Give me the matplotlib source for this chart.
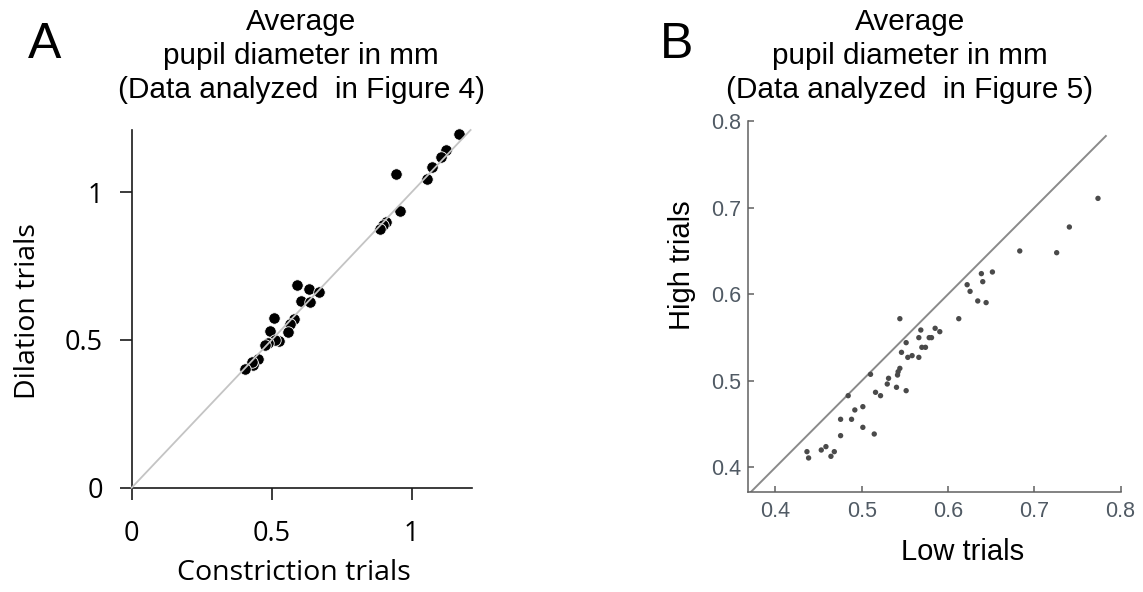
import matplotlib
matplotlib.use("Agg")
import matplotlib.pyplot as plt

# ---- Panel A data (Constriction vs Dilation trials) ----
a_constriction = [1.170, 1.122, 1.105, 1.072, 1.053, 0.944, 0.958, 0.907, 0.899, 0.887,
                  0.589, 0.633, 0.667, 0.605, 0.638, 0.509, 0.580, 0.565, 0.559, 0.494,
                  0.525, 0.512, 0.488, 0.476, 0.452, 0.434, 0.431, 0.405]
a_dilation = [1.197, 1.144, 1.118, 1.084, 1.044, 1.060, 0.935, 0.899, 0.887, 0.876,
              0.687, 0.671, 0.662, 0.631, 0.628, 0.574, 0.569, 0.555, 0.525, 0.529,
              0.496, 0.499, 0.491, 0.482, 0.435, 0.415, 0.424, 0.403]
a_ticks = [0, 0.5, 1]
a_ticklabels = ["0", "0.5", "1"]

# ---- Panel B data (Low vs High trials) ----
b_low = [0.7739, 0.7407, 0.7260, 0.6832, 0.6515, 0.6387, 0.6403, 0.6222, 0.6256, 0.6345,
         0.6442, 0.6125, 0.5442, 0.5851, 0.5905, 0.5685, 0.5662, 0.5782, 0.5809, 0.5515,
         0.5697, 0.5739, 0.5461, 0.5534, 0.5584, 0.5662, 0.5442, 0.5422, 0.5415, 0.5102,
         0.5311, 0.5296, 0.5403, 0.5515, 0.5160, 0.5218, 0.4843, 0.5013, 0.4920, 0.4755,
         0.4882, 0.5013, 0.4755, 0.5145, 0.4585, 0.4531, 0.4365, 0.4682, 0.4643, 0.4384]
b_high = [0.7109, 0.6778, 0.6481, 0.6501, 0.6258, 0.6239, 0.6146, 0.6111, 0.6034, 0.5923,
          0.5904, 0.5718, 0.5718, 0.5607, 0.5568, 0.5587, 0.5499, 0.5499, 0.5499, 0.5441,
          0.5387, 0.5387, 0.5329, 0.5271, 0.5291, 0.5271, 0.5144, 0.5105, 0.5067, 0.5075,
          0.5029, 0.4963, 0.4925, 0.4886, 0.4867, 0.4828, 0.4828, 0.4701, 0.4663, 0.4555,
          0.4555, 0.4462, 0.4366, 0.4385, 0.4239, 0.4200, 0.4181, 0.4181, 0.4127, 0.4108]
b_ticks = [0.4, 0.5, 0.6, 0.7, 0.8]
b_ticklabels = ["0.4", "0.5", "0.6", "0.7", "0.8"]

title_a = "Average\npupil diameter in mm\n(Data analyzed  in Figure 4)"
title_b = "Average\npupil diameter in mm\n(Data analyzed  in Figure 5)"

W, H = 1143, 592
fig = plt.figure(figsize=(W / 100, H / 100), dpi=100)

def fx(px):
    return px / W

def fy(py):
    return 1 - py / H

# ---------------- Panel A ----------------
axA = fig.add_axes([fx(131.7), fy(487.7), fx(471.7) - fx(131.7), fy(130) - fy(487.7)])
axA.scatter(a_constriction, a_dilation, s=68, color="black", edgecolors="white",
            linewidths=0.6, zorder=2, clip_on=False)
axA.plot([0, 1.21], [0, 1.21], color="#c4c4c4", lw=1.3, zorder=3, clip_on=False)
axA.set_xlim(0, 1.214)
axA.set_ylim(0, 1.21)
for s in ["top", "right"]:
    axA.spines[s].set_visible(False)
for s in ["left", "bottom"]:
    axA.spines[s].set_linewidth(1.2)
    axA.spines[s].set_color("#1a1a1a")
axA.set_xticks(a_ticks)
axA.set_xticklabels(a_ticklabels)
axA.set_yticks(a_ticks)
axA.set_yticklabels(a_ticklabels)
axA.tick_params(direction="out", length=8.5, width=1.2, color="#1a1a1a",
                labelsize=19.5)
axA.tick_params(axis="x", pad=15)
axA.tick_params(axis="y", pad=12)
for lab in axA.get_xticklabels() + axA.get_yticklabels():
    lab.set_family("Open Sans")
axA.set_xlabel("Constriction trials", family="Open Sans", fontsize=20.5)
axA.set_ylabel("Dilation trials", family="Open Sans", fontsize=20.5)
axA.xaxis.set_label_coords(0.477, -0.2)
axA.yaxis.set_label_coords(-0.264, 0.494)

# ---------------- Panel B ----------------
b_x0, b_x1 = 0.3685, 0.80
b_y0, b_y1 = 0.3718, 0.80
axB = fig.add_axes([fx(748.3), fy(491.7), fx(1120.5) - fx(748.3), fy(121.3) - fy(491.7)])
axB.scatter(b_low, b_high, s=15, color="#4a4a4a", edgecolors="none", zorder=2)
axB.plot([b_x0, 0.783], [b_x0, 0.783], color="#8a8a8a", lw=1.4, zorder=1)
axB.set_xlim(b_x0, b_x1)
axB.set_ylim(b_y0, b_y1)
for s in ["top", "right"]:
    axB.spines[s].set_visible(False)
for s in ["left", "bottom"]:
    axB.spines[s].set_linewidth(1.1)
    axB.spines[s].set_color("#606060")
axB.set_xticks(b_ticks)
axB.set_xticklabels(b_ticklabels)
axB.set_yticks(b_ticks)
axB.set_yticklabels(b_ticklabels)
axB.tick_params(direction="in", length=4.5, width=1.1, color="#606060",
                labelsize=15.5, labelcolor="#505a64", pad=5)
axB.tick_params(axis="x", pad=7)
for lab in axB.get_xticklabels() + axB.get_yticklabels():
    lab.set_family("Liberation Sans")
axB.set_xlabel("Low trials", family="Liberation Sans", fontsize=21)
axB.set_ylabel("High trials", family="Liberation Sans", fontsize=21)
axB.xaxis.set_label_coords(0.577, -0.125)
axB.yaxis.set_label_coords(-0.14, 0.612)

# ---------------- Titles and panel letters ----------------
fig.text(fx(301), fy(8), title_a, ha="center", va="top", fontsize=21.4,
         family="Liberation Sans", linespacing=1.27)
fig.text(fx(910), fy(8), title_b, ha="center", va="top", fontsize=21.4,
         family="Liberation Sans", linespacing=1.27)
fig.text(fx(28), fy(57.5), "A", ha="left", va="baseline", fontsize=36,
         family="Liberation Sans")
fig.text(fx(660), fy(57.5), "B", ha="left", va="baseline", fontsize=36,
         family="Liberation Sans")

fig.savefig("out.png", dpi=100)
